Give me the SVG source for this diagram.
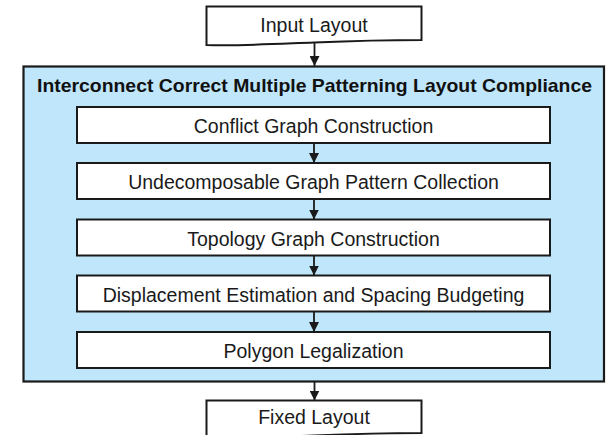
<svg xmlns="http://www.w3.org/2000/svg" width="607" height="435" viewBox="0 0 607 435">
  <style>
    .doc { fill: #ffffff; stroke: #1a1a1a; stroke-width: 2; }
    .frame { fill: #bfe6fb; stroke: #1a1a1a; stroke-width: 2.2; }
    .step { fill: #ffffff; stroke: #1a1a1a; stroke-width: 2; }
    .lbl { font-family: "Liberation Sans", Arial, sans-serif; font-size: 19.5px; fill: #1a1a1a; text-anchor: middle; dominant-baseline: central; }
    .title { font-family: "Liberation Sans", Arial, sans-serif; font-size: 19px; font-weight: bold; fill: #111111; text-anchor: middle; dominant-baseline: central; }
    .conn { stroke: #1a1a1a; stroke-width: 1.8; fill: none; marker-end: url(#arrow); }
  </style>
  <defs>
    <marker id="arrow" viewBox="0 0 10 10" refX="10" refY="5" markerWidth="10" markerHeight="10" markerUnits="userSpaceOnUse" orient="auto">
      <path d="M0,0 L10,5 L0,10 Z" fill="#1a1a1a"/>
    </marker>
  </defs>

  <rect width="607" height="435" fill="#ffffff"/>

  <g id="input-layout">
    <path class="doc" d="M206.5,6.5 H421.5 V40 C380,40 350,41 314,42.5 C275,44 240,46 206.5,45 Z"/>
    <text class="lbl" x="314" y="24.5">Input Layout</text>
  </g>

  <g id="compliance-flow">
    <rect class="frame" x="23.5" y="66.5" width="580.5" height="315"/>
    <text class="title" x="314.5" y="85.5" textLength="555" lengthAdjust="spacingAndGlyphs">Interconnect Correct Multiple Patterning Layout Compliance</text>
  </g>

  <g id="conflict-graph">
    <rect class="step" x="77" y="107" width="473" height="36"/>
    <text class="lbl" x="313.5" y="126">Conflict Graph Construction</text>
  </g>

  <g id="pattern-collection">
    <rect class="step" x="77" y="163" width="473" height="36"/>
    <text class="lbl" x="313.5" y="182">Undecomposable Graph Pattern Collection</text>
  </g>

  <g id="topology-graph">
    <rect class="step" x="77" y="219.5" width="473" height="36"/>
    <text class="lbl" x="313.5" y="238.5">Topology Graph Construction</text>
  </g>

  <g id="displacement">
    <rect class="step" x="77" y="275.5" width="473" height="36"/>
    <text class="lbl" x="313.5" y="294.5">Displacement Estimation and Spacing Budgeting</text>
  </g>

  <g id="polygon-legalization">
    <rect class="step" x="77" y="332" width="473" height="36"/>
    <text class="lbl" x="313.5" y="351">Polygon Legalization</text>
  </g>

  <g id="fixed-layout">
    <path class="doc" d="M206.5,400.5 H421.5 V433 C380,433 350,434 314,435.5 C275,437 240,439 206.5,438 Z"/>
    <text class="lbl" x="314" y="416.5">Fixed Layout</text>
  </g>

  <g id="connectors">
    <line class="conn" x1="314.5" y1="42" x2="314.5" y2="66"/>
    <line class="conn" x1="314" y1="143" x2="314" y2="163"/>
    <line class="conn" x1="314" y1="199" x2="314" y2="219.5"/>
    <line class="conn" x1="314" y1="255.5" x2="314" y2="275.5"/>
    <line class="conn" x1="314" y1="311.5" x2="314" y2="332"/>
    <line class="conn" x1="314.5" y1="382" x2="314.5" y2="400.5"/>
  </g>
</svg>
